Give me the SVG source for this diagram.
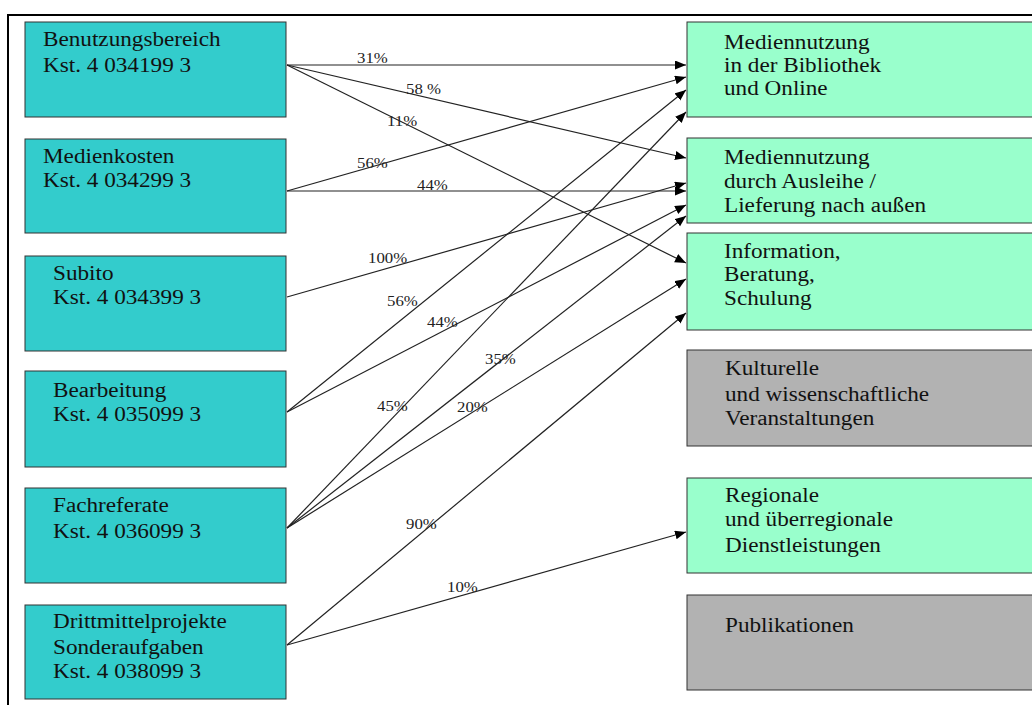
<svg xmlns="http://www.w3.org/2000/svg" width="1032" height="705" viewBox="0 0 1032 705">
<style>
.src{fill:#33CCCC;stroke:#333333;stroke-width:1}
.grn{fill:#99FFCC;stroke:#333333;stroke-width:1}
.gry{fill:#B2B2B2;stroke:#333333;stroke-width:1}
.t{font-family:"Liberation Serif","Times New Roman",serif;font-size:20px;fill:#111111}
.l{font-family:"Liberation Serif","Times New Roman",serif;font-size:14px;fill:#222222}
.c{stroke:#222222;stroke-width:1.2;fill:none;marker-end:url(#ah)}
</style>
<defs>
<marker id="ah" markerUnits="userSpaceOnUse" markerWidth="12" markerHeight="10" refX="11" refY="4.5" orient="auto">
<path d="M0,0 L11,4.5 L0,9 z" fill="#000000"/>
</marker>
</defs>
<rect x="0" y="0" width="1032" height="705" fill="#FFFFFF"/>
<path d="M8,705 L8,15 L1032,15" fill="none" stroke="#000000" stroke-width="2"/>

<g id="connectors">
<line class="c" x1="287" y1="65" x2="686" y2="65"/>
<line class="c" x1="287" y1="65" x2="686" y2="158"/>
<line class="c" x1="287" y1="65" x2="686" y2="263"/>
<line class="c" x1="287" y1="191" x2="686" y2="77"/>
<line class="c" x1="287" y1="191" x2="686" y2="191"/>
<line class="c" x1="287" y1="297" x2="686" y2="183"/>
<line class="c" x1="287" y1="412" x2="686" y2="90"/>
<line class="c" x1="287" y1="412" x2="686" y2="205"/>
<line class="c" x1="287" y1="528" x2="686" y2="112"/>
<line class="c" x1="287" y1="528" x2="686" y2="216"/>
<line class="c" x1="287" y1="528" x2="686" y2="279"/>
<line class="c" x1="287" y1="645" x2="686" y2="313"/>
<line class="c" x1="287" y1="645" x2="686" y2="532"/>
<text class="l" transform="translate(357,63) scale(1.2,1)">31%</text>
<text class="l" transform="translate(406,94) scale(1.2,1)">58 %</text>
<text class="l" transform="translate(387,126) scale(1.2,1)">11%</text>
<text class="l" transform="translate(357,168) scale(1.2,1)">56%</text>
<text class="l" transform="translate(417,190) scale(1.2,1)">44%</text>
<text class="l" transform="translate(368,263) scale(1.2,1)">100%</text>
<text class="l" transform="translate(387,306) scale(1.2,1)">56%</text>
<text class="l" transform="translate(427,327) scale(1.2,1)">44%</text>
<text class="l" transform="translate(485,364) scale(1.2,1)">35%</text>
<text class="l" transform="translate(377,411) scale(1.2,1)">45%</text>
<text class="l" transform="translate(457,412) scale(1.2,1)">20%</text>
<text class="l" transform="translate(406,529) scale(1.2,1)">90%</text>
<text class="l" transform="translate(447,592) scale(1.2,1)">10%</text>
</g>

<g id="n-benutzung">
<rect class="src" x="25" y="22" width="261" height="95"/>
<text class="t" transform="translate(43,46) scale(1.16,1)">Benutzungsbereich</text>
<text class="t" transform="translate(43,72) scale(1.16,1)">Kst. 4 034199 3</text>
</g>
<g id="n-medienkosten">
<rect class="src" x="25" y="139" width="261" height="94"/>
<text class="t" transform="translate(43,163) scale(1.16,1)">Medienkosten</text>
<text class="t" transform="translate(43,187) scale(1.16,1)">Kst. 4 034299 3</text>
</g>
<g id="n-subito">
<rect class="src" x="25" y="256" width="261" height="95"/>
<text class="t" transform="translate(53,280) scale(1.16,1)">Subito</text>
<text class="t" transform="translate(53,304) scale(1.16,1)">Kst. 4 034399 3</text>
</g>
<g id="n-bearbeitung">
<rect class="src" x="25" y="371" width="261" height="96"/>
<text class="t" transform="translate(53,397) scale(1.16,1)">Bearbeitung</text>
<text class="t" transform="translate(53,421) scale(1.16,1)">Kst. 4 035099 3</text>
</g>
<g id="n-fachreferate">
<rect class="src" x="25" y="488" width="261" height="95"/>
<text class="t" transform="translate(53,512) scale(1.16,1)">Fachreferate</text>
<text class="t" transform="translate(53,538) scale(1.16,1)">Kst. 4 036099 3</text>
</g>
<g id="n-drittmittel">
<rect class="src" x="25" y="605" width="261" height="94"/>
<text class="t" transform="translate(53,628) scale(1.16,1)">Drittmittelprojekte</text>
<text class="t" transform="translate(53,654) scale(1.16,1)">Sonderaufgaben</text>
<text class="t" transform="translate(53,678) scale(1.16,1)">Kst. 4 038099 3</text>
</g>

<g id="n-bibliothek">
<rect class="grn" x="687" y="22" width="360" height="95"/>
<text class="t" transform="translate(724,49) scale(1.16,1)">Mediennutzung</text>
<text class="t" transform="translate(724,72) scale(1.16,1)">in der Bibliothek</text>
<text class="t" transform="translate(724,95) scale(1.16,1)">und Online</text>
</g>
<g id="n-ausleihe">
<rect class="grn" x="687" y="138" width="360" height="85"/>
<text class="t" transform="translate(724,164) scale(1.16,1)">Mediennutzung</text>
<text class="t" transform="translate(724,188) scale(1.16,1)">durch Ausleihe /</text>
<text class="t" transform="translate(724,212) scale(1.16,1)">Lieferung nach außen</text>
</g>
<g id="n-information">
<rect class="grn" x="687" y="233" width="360" height="97"/>
<text class="t" transform="translate(724,258) scale(1.16,1)">Information,</text>
<text class="t" transform="translate(724,281) scale(1.16,1)">Beratung,</text>
<text class="t" transform="translate(724,305) scale(1.16,1)">Schulung</text>
</g>
<g id="n-kulturelle">
<rect class="gry" x="687" y="350" width="360" height="96"/>
<text class="t" transform="translate(725,375) scale(1.16,1)">Kulturelle</text>
<text class="t" transform="translate(725,401) scale(1.16,1)">und wissenschaftliche</text>
<text class="t" transform="translate(725,425) scale(1.16,1)">Veranstaltungen</text>
</g>
<g id="n-regionale">
<rect class="grn" x="687" y="478" width="360" height="95"/>
<text class="t" transform="translate(725,502) scale(1.16,1)">Regionale</text>
<text class="t" transform="translate(725,526) scale(1.16,1)">und überregionale</text>
<text class="t" transform="translate(725,552) scale(1.16,1)">Dienstleistungen</text>
</g>
<g id="n-publikationen">
<rect class="gry" x="687" y="595" width="360" height="95"/>
<text class="t" transform="translate(725,632) scale(1.16,1)">Publikationen</text>
</g>
</svg>
